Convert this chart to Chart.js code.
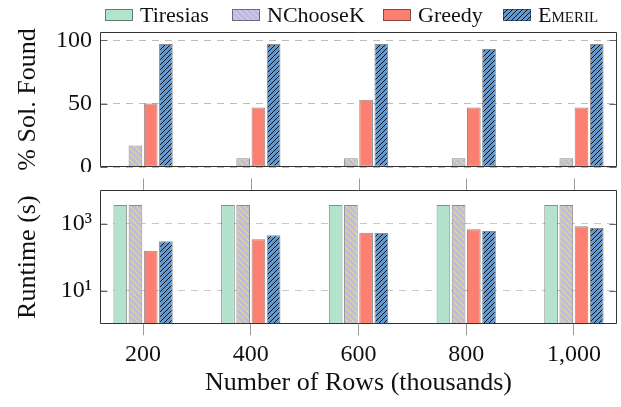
<!DOCTYPE html>
<html>
<head>
<meta charset="utf-8">
<script src="https://cdn.jsdelivr.net/npm/chart.js@4.4.1/dist/chart.umd.min.js"></script>
<style>
  body { margin: 0; background: #fff; }
  #wrap { position: relative; width: 621px; height: 407px; font-family: "Liberation Serif", serif; color: #111; }
  #top { position: absolute; left: 0; top: 0; }
  #bottom { position: absolute; left: 0; top: 172px; }
  #legend { position: absolute; left: 0; top: 0; width: 621px; height: 28px; font-size: 22px; }
  #legend .item { position: absolute; top: 2px; display: flex; align-items: center; white-space: nowrap; }
  #legend canvas { display: block; margin-right: 7px; }
</style>
</head>
<body>
<div id="wrap">
  <canvas id="top" width="621" height="172"></canvas>
  <canvas id="bottom" width="621" height="235"></canvas>
  <div id="legend"></div>
</div>
<script>
// data
const rows = [200, 400, 600, 800, 1000];
const rowLabels = ['200', '400', '600', '800', '1,000'];
const methods = ['Tiresias', 'NChooseK', 'Greedy', 'Emeril'];

const foundTiresias = [0, 0, 0, 0, 0];
const foundNChooseK = [17, 7, 7, 7, 7];
const foundGreedy = [50, 47, 53, 47, 47];
const foundEmeril = [97, 97, 97, 93, 97];

const timeTiresias = [3600, 3600, 3600, 3600, 3600];
const timeNChooseK = [3600, 3600, 3600, 3600, 3600];
const timeGreedy = [155, 340, 530, 680, 830];
const timeEmeril = [300, 450, 520, 600, 740];

const foundTicks = [0, 50, 100];
const timeTicks = [10, 1000];

Chart.defaults.font.family = '"Liberation Serif", serif';
Chart.defaults.color = '#111';

// hatch tiles (pgfplots style lines)
function tile(bg, fg, s, dir, w) {
  const c = document.createElement('canvas');
  c.width = c.height = s;
  const g = c.getContext('2d');
  g.fillStyle = bg;
  g.fillRect(0, 0, s, s);
  g.strokeStyle = fg;
  g.lineWidth = w;
  g.beginPath();
  if (dir > 0) {
    g.moveTo(-1, s + 1); g.lineTo(s + 1, -1);
    g.moveTo(-1, 1); g.lineTo(1, -1);
    g.moveTo(s - 1, s + 1); g.lineTo(s + 1, s - 1);
  } else {
    g.moveTo(-1, -1); g.lineTo(s + 1, s + 1);
    g.moveTo(s - 1, -1); g.lineTo(s + 1, 1);
    g.moveTo(-1, s - 1); g.lineTo(1, s + 1);
  }
  g.stroke();
  return c;
}

const looks = [
  '#b3e2cd',
  tile('#bfbce0', '#f4ee86', 6, -1, 0.75),
  '#fb8072',
  tile('#6499cf', '#111', 5, 1, 1)
];
const edge = 'rgba(0,0,0,0.45)';

function fillFor(k, ctx) {
  const l = looks[k];
  return typeof l === 'string' ? l : ctx.createPattern(l, 'repeat');
}

function datasets(series, ctx) {
  return methods.map((m, k) => ({
    label: m,
    data: rows.map((r, i) => ({ x: r, y: series[k][i] })),
    backgroundColor: fillFor(k, ctx),
    borderColor: edge,
    borderWidth: 1,
    borderSkipped: false,
    barPercentage: 0.9,
    categoryPercentage: 0.565
  }));
}

// box, inner y ticks, outer x ticks on top edge
const frame = {
  id: 'frame',
  afterDraw(chart, args, opts) {
    const { ctx, chartArea: a, scales } = chart;
    const L = Math.round(a.left) + 0.5, R = Math.round(a.right) - 0.5;
    const T = Math.round(a.top) + 0.5, B = Math.round(a.bottom) - 0.5;
    ctx.save();
    ctx.lineWidth = 1;
    ctx.strokeStyle = '#666';
    scales.y.ticks.forEach(t => {
      const py = Math.round(scales.y.getPixelForValue(t.value)) + 0.5;
      ctx.beginPath();
      ctx.moveTo(L, py); ctx.lineTo(L + 7, py);
      ctx.moveTo(R, py); ctx.lineTo(R - 7, py);
      ctx.stroke();
    });
    if (opts.topTicks) {
      ctx.strokeStyle = '#999';
      rows.forEach(v => {
        const px = Math.round(scales.x.getPixelForValue(v)) + 0.5;
        ctx.beginPath();
        ctx.moveTo(px, T); ctx.lineTo(px, T - 12);
        ctx.stroke();
      });
    }
    ctx.strokeStyle = '#333';
    ctx.beginPath();
    ctx.moveTo(L, T); ctx.lineTo(R, T); ctx.lineTo(R, B); ctx.lineTo(L, B); ctx.closePath();
    ctx.stroke();
    ctx.restore();
  }
};

// keep the plot boxes where the reference has them
const noPad = s => { s.paddingTop = 0; s.paddingBottom = 0; s.paddingLeft = 0; s.paddingRight = 0; };

const xBase = {
  type: 'linear',
  min: 120,
  max: 1080,
  offset: false,
  afterBuildTicks: s => { s.ticks = rows.map(v => ({ value: v })); }
};

const yTitle = text => ({
  display: true,
  text: text,
  font: { size: 26, lineHeight: 1 },
  padding: { top: 15, bottom: 0 }
});

const topCtx = document.getElementById('top').getContext('2d');
const chartTop = new Chart(topCtx, {
  type: 'bar',
  data: { datasets: datasets([foundTiresias, foundNChooseK, foundGreedy, foundEmeril], topCtx) },
  options: {
    responsive: false,
    animation: false,
    layout: { autoPadding: false, padding: { top: 32, right: 4, bottom: 5, left: 0 } },
    plugins: { legend: { display: false }, tooltip: { enabled: false }, frame: {} },
    scales: {
      x: Object.assign({}, xBase, { display: false, grid: { offset: false }, afterFit: noPad }),
      y: {
        min: 0,
        max: 106.5,
        afterBuildTicks: s => { s.ticks = foundTicks.map(v => ({ value: v })); },
        afterFit: s => { s.width = 100; noPad(s); },
        ticks: { font: { size: 24 }, padding: 8 },
        grid: { color: '#bdbdbd', drawTicks: false },
        border: { display: false, dash: [7, 6] },
        title: yTitle('% Sol. Found')
      }
    }
  },
  plugins: [frame]
});

const botCtx = document.getElementById('bottom').getContext('2d');
const sup = { 1: '\u00b9', 2: '\u00b2', 3: '\u00b3' };
const chartBottom = new Chart(botCtx, {
  type: 'bar',
  data: { datasets: datasets([timeTiresias, timeNChooseK, timeGreedy, timeEmeril], botCtx) },
  options: {
    responsive: false,
    animation: false,
    layout: { autoPadding: false, padding: { top: 18, right: 4, bottom: 0, left: 0 } },
    plugins: { legend: { display: false }, tooltip: { enabled: false }, frame: { topTicks: true } },
    scales: {
      x: Object.assign({}, xBase, {
        afterFit: s => { s.height = 82.7; noPad(s); },
        ticks: {
          font: { size: 24 },
          padding: 5,
          callback: v => rowLabels[rows.indexOf(v)]
        },
        grid: { offset: false, drawOnChartArea: false, drawTicks: true, tickLength: 11, tickColor: '#999' },
        border: { display: false },
        title: {
          display: true,
          text: 'Number of Rows (thousands)',
          font: { size: 26, lineHeight: 1 },
          padding: { top: 0, bottom: 11 }
        }
      }),
      y: {
        type: 'logarithmic',
        min: 1,
        max: 10000,
        afterBuildTicks: s => { s.ticks = timeTicks.map(v => ({ value: v })); },
        afterFit: s => { s.width = 100; noPad(s); },
        ticks: {
          font: { size: 24 },
          padding: 8,
          callback: v => '10' + sup[Math.round(Math.log10(v))]
        },
        grid: { color: '#c8c8c8', drawTicks: false },
        border: { display: false, dash: [7, 6] },
        title: yTitle('Runtime (s)')
      }
    }
  },
  plugins: [frame]
});

// legend as html, built from the chart datasets
const legendX = [105, 232, 383, 503];
const legend = document.getElementById('legend');
chartTop.data.datasets.forEach((ds, k) => {
  const item = document.createElement('div');
  item.className = 'item';
  item.style.left = legendX[k] + 'px';
  const sw = document.createElement('canvas');
  sw.width = 28; sw.height = 12;
  const g = sw.getContext('2d');
  g.fillStyle = fillFor(k, g);
  g.fillRect(0, 0, 28, 12);
  g.strokeStyle = edge;
  g.strokeRect(0.5, 0.5, 27, 11);
  const tx = document.createElement('span');
  tx.textContent = ds.label;
  if (ds.label === 'Emeril') tx.style.fontVariant = 'small-caps';
  item.appendChild(sw);
  item.appendChild(tx);
  legend.appendChild(item);
});
</script>
</body>
</html>
